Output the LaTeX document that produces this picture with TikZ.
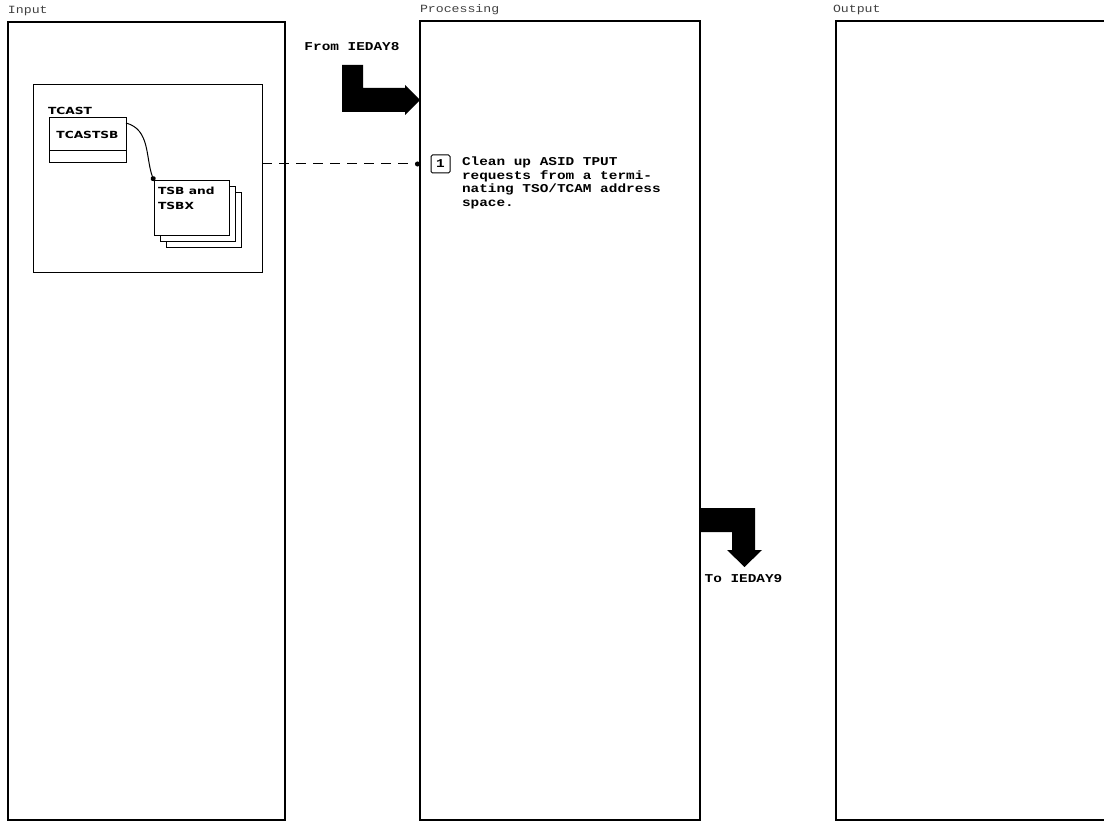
\documentclass[tikz,border=0pt]{standalone}
\usepackage{fontspec}
\usepackage{tikz}
\usetikzlibrary{arrows.meta,positioning}
\newfontfamily\scanmono[FakeStretch=1.2]{Liberation Mono}
\newfontfamily\scansans[FakeStretch=1.25]{DejaVu Sans}

\begin{document}
\begin{tikzpicture}[
  x=1pt,y=-1pt,
  every node/.style={inner sep=0pt,outer sep=0pt},
  panel/.style={draw,line width=1.9pt},
  ttl/.style={font=\scanmono\fontsize{11}{11}\selectfont,text=black!75},
  ctlblk/.style={draw,line width=1pt,fill=white},
  fld/.style={font=\scansans\bfseries\fontsize{9.8}{15}\selectfont},
  stepnum/.style={draw,line width=1pt,rounded corners=1.5pt,
    minimum width=19pt,minimum height=18pt,
    font=\scanmono\bfseries\fontsize{12}{12}\selectfont},
  steptxt/.style={align=left,font=\scanmono\bfseries\fontsize{12}{13.5}\selectfont},
  modlbl/.style={font=\scanmono\bfseries\fontsize{12}{12}\selectfont},
  ptr/.style={-{Circle[length=5pt]},line width=1pt},
  dashlink/.style={-{Circle[length=5pt]},line width=1pt,
    dash pattern=on 10pt off 7pt},
  bigarr/.style={fill=black}
]
  \useasboundingbox (0,0) rectangle (1104,824);

  % the three columns
  \node[panel,minimum width=277pt,minimum height=798pt] (inpanel) at (146.5,421) {};
  \node[panel,minimum width=280pt,minimum height=799pt] (procpanel) at (560,420.5) {};
  \coordinate (outcorner) at (836,21);
  \draw[panel] (1104,21) -| (836,820) -- (1104,820);
  \node[ttl,anchor=base west] (intitle) at ([yshift=8pt]inpanel.north west) {Input};
  \node[ttl,anchor=base west] (proctitle) at ([yshift=8pt]procpanel.north west) {Processing};
  \node[ttl,anchor=base west] (outtitle) at ([yshift=8pt,xshift=-3pt]outcorner) {Output};

  % input control blocks
  \node[ctlblk,minimum width=229pt,minimum height=187pt] (tcast) at (147.5,178.5) {};
  \node[ctlblk,fld,minimum width=77pt,minimum height=33pt] (tcastsb) at (87.5,134.5) {TCASTSB};
  \node[ctlblk,minimum width=77pt,minimum height=12pt,below=0pt of tcastsb] (tcastsbx) {};
  \node[fld,anchor=base west] (tcastlbl) at ([yshift=3pt,xshift=-1pt]tcastsb.north west) {TCAST};
  \node[ctlblk,minimum width=75pt,minimum height=54pt] (tsbback) at (203.5,220) {};
  \node[ctlblk,minimum width=75pt,minimum height=54pt] (tsbmid) at (197.5,214) {};
  \node[ctlblk,minimum width=75pt,minimum height=54pt] (tsb) at (191.5,208) {};
  \node[fld,align=left,anchor=north west] (tsbtext) at ([xshift=4pt,yshift=-6pt]tsb.north west) {TSB and\\TSBX};
  \draw[ptr] ([yshift=-5pt]tcastsb.north east) to[out=-15,in=110] (tsb.north west);

  % processing step
  \node[stepnum] (stepnum) at (440.5,164) {1};
  \node[steptxt,anchor=north west] (steptext) at ([xshift=12pt,yshift=-2pt]stepnum.north east)
    {Clean up ASID TPUT\\requests from a termi-\\nating TSO/TCAM address\\space.};
  \draw[dashlink] (tcast.east |- stepnum) -- (procpanel.west |- stepnum);

  % module flow
  \node[modlbl] (fromlbl) at (352,47) {From IEDAY8};
  \fill[bigarr] (procpanel.west |- 0,100) -- ++(-15,-15) -- ++(0,3) -- ++(-42,0)
    -- ++(0,-23) -- ++(-21,0) -- ++(0,47) -- ++(63,0) -- ++(0,3) -- cycle;
  \fill[bigarr] (procpanel.east |- 0,508) -- ++(55,0) -- ++(0,42) -- ++(7,0)
    -- ++(-17.5,17) -- ++(-17.5,-17) -- ++(5,0) -- ++(0,-18) -- ++(-32,0) -- cycle;
  \node[modlbl] (tolbl) at (743.5,579) {To IEDAY9};
\end{tikzpicture}
\end{document}
